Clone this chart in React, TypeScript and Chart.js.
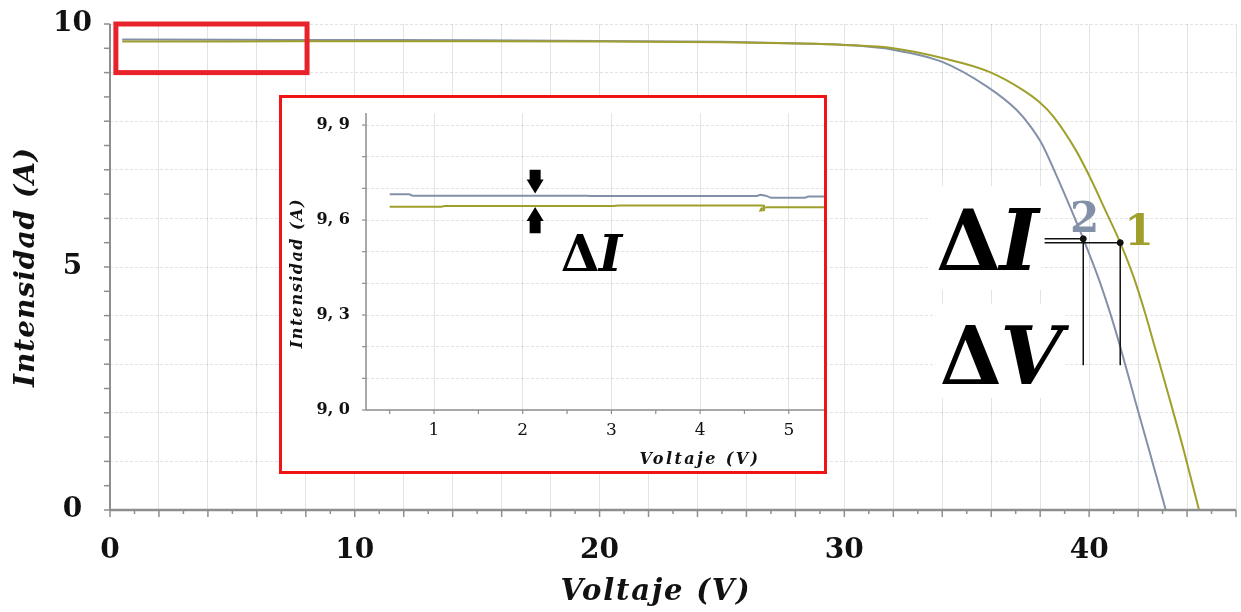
import { useEffect, useRef } from 'react';
import { Chart, registerables } from 'chart.js';

Chart.register(...registerables);

const SERIF = '"DejaVu Serif", "Liberation Serif", serif';

// Curve 1 (olive): voltage (V) and current (A)
const volts1 = [0.5, 5, 10, 15, 20, 25, 28.2, 30.0, 32.0, 34.0, 35.9, 37.3, 38.0, 38.55, 39.45, 40.05, 40.65, 41.27, 41.84, 42.27, 42.68, 43.28, 43.88, 44.49];
const amps1 = [9.64, 9.64, 9.645, 9.645, 9.64, 9.625, 9.6, 9.57, 9.5, 9.3, 9.02, 8.64, 8.38, 8.09, 7.41, 6.83, 6.18, 5.5, 4.76, 4.08, 3.36, 2.3, 1.2, 0];

// Curve 2 (blue-grey)
const volts2 = [0.5, 5, 10, 15, 20, 25, 28.2, 30.0, 32.0, 34.0, 35.83, 37.04, 37.55, 38.05, 38.65, 39.25, 39.76, 40.41, 40.86, 41.23, 41.57, 41.87, 42.47, 43.13];
const amps2 = [9.68, 9.675, 9.67, 9.665, 9.65, 9.635, 9.6, 9.57, 9.47, 9.22, 8.71, 8.23, 7.93, 7.55, 6.9, 6.2, 5.58, 4.73, 4.05, 3.43, 2.82, 2.27, 1.2, 0];

// Close-up of the plateau
const zoomVolts1 = [0.5, 1.08, 1.12, 3.02, 3.08, 4.68, 4.72, 4.72, 4.68, 4.69, 4.75, 5.4];
const zoomAmps1 = [9.642, 9.642, 9.644, 9.644, 9.646, 9.646, 9.645, 9.631, 9.63, 9.636, 9.64, 9.64];
const zoomVolts2 = [0.5, 0.72, 0.76, 2.72, 2.78, 4.64, 4.68, 4.74, 4.8, 5.18, 5.22, 5.4];
const zoomAmps2 = [9.681, 9.681, 9.677, 9.677, 9.676, 9.676, 9.68, 9.677, 9.67, 9.67, 9.674, 9.674];

// Tick labels
const xTickLabels = [0, 10, 20, 30, 40];
const yTickLabels = [0, 5, 10];
const zoomXTickLabels = [1, 2, 3, 4, 5];
const zoomYTickLabels = [9.0, 9.3, 9.6, 9.9];

// Operating points 1 (olive) and 2 (blue-grey) and their guide lines
const markVolts = [41.27, 39.76];
const markAmps = [5.5, 5.58];
const guideStartVolt = 38.18;
const guideBottomAmp = 2.98;

// Region enlarged in the close-up
const zoomRegionVolts = [0.24, 8.05];
const zoomRegionAmps = [9.0, 10.0];

// Arrows showing the current gap in the close-up
const arrowVolt = 2.14;
const arrowDownAmps = [9.759, 9.684];
const arrowUpAmps = [9.558, 9.641];

const OLIVE = '#a09f2c';
const BLUE = '#8391a8';
const GRID = 'rgba(0,0,0,0.11)';
const AXIS = '#8e8e8e';
const INK = '#111';

const pts = (xs: number[], ys: number[]) => xs.map((x, i) => ({ x, y: ys[i] }));
const onStep = (v: number, step: number) => {
  const r = v / step;
  return Math.abs(r - Math.round(r)) < 1e-6;
};
const hasLabel = (list: number[], v: number) => list.some((l) => Math.abs(l - v) < 1e-6);

// fixes the axis box size and drops the label overhang padding
const fixBox = (size: number, horizontal: boolean) => (s: any) => {
  if (horizontal) s.height = size;
  else s.width = size;
  s.paddingLeft = 0;
  s.paddingRight = 0;
  s.paddingTop = 0;
  s.paddingBottom = 0;
};

function drawDelta(ctx: CanvasRenderingContext2D, x: number, y: number, letter: string, size: number) {
  ctx.font = `bold ${size}px ${SERIF}`;
  ctx.fillText('Δ', x, y);
  const w = ctx.measureText('Δ').width;
  ctx.font = `italic bold ${size}px ${SERIF}`;
  ctx.fillText(letter, x + w - size * 0.02, y);
}

function deltaWidth(ctx: CanvasRenderingContext2D, letter: string, size: number) {
  ctx.font = `bold ${size}px ${SERIF}`;
  const w = ctx.measureText('Δ').width;
  ctx.font = `italic bold ${size}px ${SERIF}`;
  return w + ctx.measureText(letter).width;
}

function line(ctx: CanvasRenderingContext2D, x1: number, y1: number, x2: number, y2: number) {
  ctx.beginPath();
  ctx.moveTo(x1, y1);
  ctx.lineTo(x2, y2);
  ctx.stroke();
}

function arrow(ctx: CanvasRenderingContext2D, x: number, yTail: number, yTip: number) {
  const dir = Math.sign(yTip - yTail);
  const headBase = yTip - dir * 14;
  ctx.beginPath();
  ctx.moveTo(x - 5.5, yTail);
  ctx.lineTo(x + 5.5, yTail);
  ctx.lineTo(x + 5.5, headBase);
  ctx.lineTo(x + 8.5, headBase);
  ctx.lineTo(x, yTip);
  ctx.lineTo(x - 8.5, headBase);
  ctx.lineTo(x - 5.5, headBase);
  ctx.closePath();
  ctx.fill();
}

const BIG_I = 84;
const BIG_V = 80;
const deltaILabel = { v: 33.74, a: 4.94 };
const deltaVLabel = { v: 33.9, a: 2.59 };

const mainDecor = {
  id: 'mainDecor',
  beforeDatasetsDraw(chart: any) {
    const { ctx, scales } = chart;
    const { x, y } = scales;
    ctx.save();
    ctx.fillStyle = '#fff';
    const ix = x.getPixelForValue(deltaILabel.v);
    const iy = y.getPixelForValue(deltaILabel.a);
    ctx.fillRect(ix - 5, iy - 84, deltaWidth(ctx, 'I', BIG_I) + 6, 104);
    const vx = x.getPixelForValue(deltaVLabel.v);
    const vy = y.getPixelForValue(deltaVLabel.a);
    ctx.fillRect(vx - 4, vy - 80, deltaWidth(ctx, 'V', BIG_V) + 6, 94);
    ctx.restore();
  },
  afterDraw(chart: any) {
    const { ctx, chartArea: a, scales } = chart;
    const { x, y } = scales;
    ctx.save();
    // axis lines and tick marks
    ctx.strokeStyle = AXIS;
    ctx.lineWidth = 2.5;
    line(ctx, a.left, a.bottom, a.right, a.bottom);
    ctx.lineWidth = 2;
    line(ctx, a.left, a.top, a.left, a.bottom);
    ctx.lineWidth = 1.5;
    for (let v = 0; v <= 46; v++) {
      const px = x.getPixelForValue(v);
      line(ctx, px, a.bottom, px, a.bottom + (v % 2 === 0 ? 7 : 4));
    }
    for (let v = 0; v <= 10; v += 0.5) {
      const py = y.getPixelForValue(v);
      line(ctx, a.left - 6, py, a.left, py);
    }
    // enlarged region
    ctx.strokeStyle = '#e8222b';
    ctx.lineWidth = 5;
    const rx1 = x.getPixelForValue(zoomRegionVolts[0]);
    const rx2 = x.getPixelForValue(zoomRegionVolts[1]);
    const ry1 = y.getPixelForValue(zoomRegionAmps[1]);
    const ry2 = y.getPixelForValue(zoomRegionAmps[0]);
    ctx.strokeRect(rx1, ry1, rx2 - rx1, ry2 - ry1);

    // axis titles
    ctx.fillStyle = INK;
    ctx.textBaseline = 'alphabetic';
    ctx.textAlign = 'center';
    ctx.font = `italic bold 29px ${SERIF}`;
    (ctx as any).letterSpacing = '1.8px';
    ctx.fillText('Voltaje (V)', 656, 600);
    ctx.save();
    ctx.translate(34, 267);
    ctx.rotate(-Math.PI / 2);
    ctx.font = `italic bold 28px ${SERIF}`;
    (ctx as any).letterSpacing = '1px';
    ctx.fillText('Intensidad (A)', 0, 0);
    ctx.restore();
    (ctx as any).letterSpacing = '0px';

    // ΔI / ΔV
    ctx.textAlign = 'left';
    ctx.fillStyle = '#000';
    drawDelta(ctx, x.getPixelForValue(deltaILabel.v), y.getPixelForValue(deltaILabel.a), 'I', BIG_I);
    drawDelta(ctx, x.getPixelForValue(deltaVLabel.v), y.getPixelForValue(deltaVLabel.a), 'V', BIG_V);

    // point numbers
    ctx.font = `bold 42px ${SERIF}`;
    ctx.fillStyle = BLUE;
    ctx.fillText('2', x.getPixelForValue(39.22), y.getPixelForValue(5.72));
    ctx.fillStyle = OLIVE;
    ctx.fillText('1', x.getPixelForValue(41.44), y.getPixelForValue(5.45));
    ctx.restore();
  },
};

const zoomLabel = { v: 2.43, a: 9.44 };

const zoomDecor = {
  id: 'zoomDecor',
  afterDraw(chart: any) {
    const { ctx, chartArea: a, scales } = chart;
    const { x, y } = scales;
    ctx.save();
    ctx.strokeStyle = AXIS;
    ctx.lineWidth = 1.5;
    line(ctx, a.left, a.bottom, a.right, a.bottom);
    line(ctx, a.left, a.top, a.left, a.bottom);
    ctx.lineWidth = 1.2;
    for (let v = 0.5; v <= 5.4; v += 0.5) {
      const px = x.getPixelForValue(v);
      line(ctx, px, a.bottom, px, a.bottom + 4);
    }
    for (let k = 90; k <= 99; k++) {
      const py = y.getPixelForValue(k / 10);
      line(ctx, a.left - 4, py, a.left, py);
    }

    // arrows
    ctx.fillStyle = '#000';
    const ax = x.getPixelForValue(arrowVolt);
    arrow(ctx, ax, y.getPixelForValue(arrowDownAmps[0]), y.getPixelForValue(arrowDownAmps[1]));
    arrow(ctx, ax, y.getPixelForValue(arrowUpAmps[0]), y.getPixelForValue(arrowUpAmps[1]));

    // ΔI
    ctx.textAlign = 'left';
    ctx.textBaseline = 'alphabetic';
    drawDelta(ctx, x.getPixelForValue(zoomLabel.v), y.getPixelForValue(zoomLabel.a), 'I', 50);

    // axis titles
    ctx.fillStyle = INK;
    ctx.textAlign = 'center';
    ctx.font = `italic bold 16px ${SERIF}`;
    (ctx as any).letterSpacing = '2.4px';
    ctx.fillText('Voltaje (V)', 700 - 282, 464 - 98);
    ctx.save();
    ctx.translate(302 - 282, 273 - 98);
    ctx.rotate(-Math.PI / 2);
    (ctx as any).letterSpacing = '1.5px';
    ctx.fillText('Intensidad (A)', 0, 0);
    ctx.restore();
    (ctx as any).letterSpacing = '0px';
    ctx.restore();
  },
};

export default function App() {
  const mainRef = useRef<HTMLCanvasElement>(null);
  const zoomRef = useRef<HTMLCanvasElement>(null);

  useEffect(() => {
    const curve = (data: any, color: string, extra: any = {}) => ({
      data,
      borderColor: color,
      backgroundColor: color,
      borderWidth: 2,
      showLine: true,
      pointRadius: 0,
      fill: false,
      ...extra,
    });
    const guide = (data: any) => ({
      data,
      borderColor: '#111',
      borderWidth: 1.5,
      showLine: true,
      pointRadius: 0,
      tension: 0,
    });

    const main = new Chart(mainRef.current as HTMLCanvasElement, {
      type: 'scatter',
      data: {
        datasets: [
          {
            data: pts(markVolts, markAmps),
            pointRadius: 3,
            pointBackgroundColor: '#111',
            pointBorderColor: '#111',
            showLine: false,
          },
          guide([{ x: guideStartVolt, y: markAmps[1] }, { x: markVolts[1], y: markAmps[1] }]),
          guide([{ x: guideStartVolt, y: markAmps[0] }, { x: markVolts[0], y: markAmps[0] }]),
          guide([{ x: markVolts[1], y: markAmps[1] }, { x: markVolts[1], y: guideBottomAmp }]),
          guide([{ x: markVolts[0], y: markAmps[0] }, { x: markVolts[0], y: guideBottomAmp }]),
          curve(pts(volts1, amps1), OLIVE, { cubicInterpolationMode: 'monotone' }),
          curve(pts(volts2, amps2), BLUE, { cubicInterpolationMode: 'monotone' }),
        ] as any,
      },
      options: {
        responsive: false,
        animation: false,
        layout: { padding: { top: 24, right: 2, left: 0, bottom: 0 } },
        plugins: { legend: { display: false }, tooltip: { enabled: false } },
        scales: {
          x: {
            type: 'linear',
            min: 0,
            max: 46,
            afterFit: fixBox(102, true),
            border: { display: false },
            grid: {
              drawTicks: false,
              color: (c: any) => (c.tick && onStep(c.tick.value, 2) ? GRID : 'rgba(0,0,0,0)'),
            },
            ticks: {
              stepSize: 1,
              autoSkip: false,
              includeBounds: false,
              maxRotation: 0,
              padding: 24,
              color: INK,
              font: { family: SERIF, size: 28, weight: 'bold' },
              callback: (v: any) => (hasLabel(xTickLabels, Number(v)) ? String(v) : ''),
            },
          },
          y: {
            type: 'linear',
            min: 0,
            max: 10,
            afterFit: fixBox(110, false),
            border: { display: false, dash: [3, 2] },
            grid: {
              drawTicks: false,
              color: (c: any) => (c.tick && onStep(c.tick.value, 1) ? GRID : 'rgba(0,0,0,0)'),
            },
            ticks: {
              stepSize: 0.5,
              autoSkip: false,
              includeBounds: false,
              padding: 18,
              crossAlign: 'center',
              color: INK,
              font: { family: SERIF, size: 28, weight: 'bold' },
              callback: (v: any) => (hasLabel(yTickLabels, Number(v)) ? String(v) : ''),
            },
          },
        } as any,
      },
      plugins: [mainDecor],
    });

    const zoom = new Chart(zoomRef.current as HTMLCanvasElement, {
      type: 'scatter',
      data: {
        datasets: [
          curve(pts(zoomVolts2, zoomAmps2), BLUE, { tension: 0 }),
          curve(pts(zoomVolts1, zoomAmps1), OLIVE, { tension: 0 }),
        ] as any,
      },
      options: {
        responsive: false,
        animation: false,
        layout: { padding: { top: 15, right: 0, left: 0, bottom: 0 } },
        plugins: { legend: { display: false }, tooltip: { enabled: false } },
        scales: {
          x: {
            type: 'linear',
            min: 0.233,
            max: 5.397,
            afterFit: fixBox(61, true),
            border: { display: false },
            grid: {
              drawTicks: false,
              color: (c: any) => (c.tick && onStep(c.tick.value, 1) ? GRID : 'rgba(0,0,0,0)'),
            },
            ticks: {
              stepSize: 0.5,
              autoSkip: false,
              includeBounds: false,
              maxRotation: 0,
              padding: 10,
              color: INK,
              font: { family: SERIF, size: 17 },
              callback: (v: any) => (hasLabel(zoomXTickLabels, Number(v)) ? String(Math.round(Number(v))) : ''),
            },
          },
          y: {
            type: 'linear',
            min: 9.0,
            max: 9.938,
            afterFit: fixBox(84, false),
            border: { display: false, dash: [3, 2] },
            grid: {
              drawTicks: false,
              color: (c: any) => (c.tick && onStep(c.tick.value, 0.1) ? GRID : 'rgba(0,0,0,0)'),
            },
            ticks: {
              stepSize: 0.1,
              autoSkip: false,
              includeBounds: false,
              padding: 16,
              color: INK,
              font: { family: SERIF, size: 16, weight: 'bold' },
              callback: (v: any) =>
                hasLabel(zoomYTickLabels, Number(v)) ? Number(v).toFixed(1).replace('.', ', ') : '',
            },
          },
        } as any,
      },
      plugins: [zoomDecor],
    });

    return () => {
      main.destroy();
      zoom.destroy();
    };
  }, []);

  return (
    <div
      style={{
        position: 'absolute',
        left: 0,
        top: 0,
        width: 1241,
        height: 612,
        background: '#fff',
        overflow: 'hidden',
      }}
    >
      <canvas ref={mainRef} width={1241} height={612} style={{ position: 'absolute', left: 0, top: 0 }} />
      <div
        style={{
          position: 'absolute',
          left: 279,
          top: 95,
          width: 548,
          height: 379,
          boxSizing: 'border-box',
          border: '3px solid #f01414',
          background: '#fff',
        }}
      >
        <canvas ref={zoomRef} width={542} height={373} style={{ position: 'absolute', left: 0, top: 0 }} />
      </div>
    </div>
  );
}
